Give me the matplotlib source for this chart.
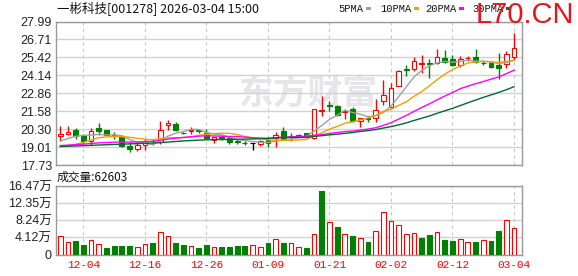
import numpy as np
import matplotlib
matplotlib.use("Agg")
import matplotlib.pyplot as plt
from matplotlib.patches import Rectangle

# daily candles, 60 sessions ending 2026-03-04
opens = [19.80, 19.92, 20.25, 19.78, 19.42, 20.37, 20.23, 19.85, 19.80, 19.12,
         18.90, 19.19, 19.45, 19.35, 20.60, 20.65, 20.05, 20.18, 20.22, 20.02,
         19.52, 19.72, 19.64, 19.45, 19.33, 19.30, 19.24, 19.52, 19.64, 20.18,
         19.72, 19.88, 20.02, 19.66, 21.60, 22.00, 21.95, 21.55, 21.72, 20.90,
         21.10, 21.08, 22.31, 21.89, 23.40, 24.58, 24.58, 24.95, 25.02, 25.00,
         25.36, 25.30, 24.90, 25.36, 25.43, 25.05, 25.03, 24.85, 24.92, 25.46]
highs = [20.49, 20.49, 20.40, 19.95, 20.37, 20.72, 20.25, 20.10, 19.88, 19.36,
         19.30, 19.60, 19.62, 20.90, 20.95, 20.80, 20.12, 20.42, 20.30, 20.32,
         19.72, 19.88, 19.82, 19.62, 19.45, 19.30, 19.55, 19.70, 20.06, 20.48,
         20.02, 19.95, 20.05, 21.72, 22.66, 22.31, 22.00, 21.72, 21.85, 21.10,
         21.25, 22.48, 23.84, 23.62, 24.50, 24.90, 25.42, 25.62, 25.30, 26.00,
         25.93, 25.57, 25.50, 25.55, 26.00, 25.19, 25.10, 25.74, 25.86, 27.14]
lows = [19.47, 19.90, 19.60, 19.20, 19.14, 19.85, 19.85, 19.60, 19.05, 18.65,
        18.73, 18.80, 19.15, 19.20, 20.20, 20.18, 19.92, 19.95, 20.05, 19.60,
        19.28, 19.50, 19.25, 19.22, 19.15, 18.82, 19.10, 19.05, 19.05, 19.60,
        19.45, 19.70, 19.78, 19.58, 21.20, 21.62, 21.25, 21.02, 20.80, 20.42,
        20.82, 20.80, 22.05, 21.84, 23.35, 24.10, 24.45, 24.32, 23.95, 24.97,
        25.05, 24.80, 24.75, 25.15, 25.00, 24.86, 24.68, 23.90, 24.68, 25.26]
closes = [19.95, 20.07, 19.80, 19.42, 20.14, 20.16, 19.87, 19.82, 19.08, 18.84,
          19.16, 19.45, 19.42, 20.23, 20.72, 20.20, 20.02, 20.22, 20.18, 19.64,
          19.70, 19.68, 19.38, 19.35, 19.30, 19.30, 19.42, 19.31, 19.87, 19.62,
          19.80, 19.82, 19.80, 21.72, 21.65, 21.95, 21.30, 21.60, 20.90, 21.08,
          21.04, 21.65, 22.71, 23.26, 24.44, 24.52, 25.20, 25.00, 24.98, 25.43,
          25.08, 24.90, 25.28, 25.40, 25.12, 25.02, 24.72, 24.68, 25.67, 26.10]

# volume in 万 shares, and whether the bar is drawn red (up)
volume = [4.56, 2.96, 3.2, 2.24, 3.44, 2.48, 1.52, 2.0, 2.0, 2.0,
          1.76, 2.48, 2.72, 5.52, 4.56, 2.72, 2.24, 2.0, 1.52, 2.24,
          1.76, 1.76, 1.76, 2.0, 2.0, 2.24, 1.76, 2.72, 3.84, 2.72,
          2.72, 1.69, 1.53, 4.82, 15.26, 7.71, 6.59, 4.82, 4.42, 3.86,
          2.97, 5.54, 10.12, 7.95, 6.99, 4.82, 5.06, 3.94, 4.66, 5.3,
          3.45, 3.21, 3.61, 2.97, 2.97, 3.37, 3.21, 5.62, 8.19, 6.2603]
vol_up = [1, 1, 0, 0, 1, 1, 0, 0, 0, 0,
          1, 1, 0, 1, 1, 0, 0, 1, 0, 0,
          1, 0, 0, 0, 0, 1, 1, 0, 1, 0,
          1, 1, 0, 1, 0, 1, 0, 1, 0, 1,
          0, 1, 1, 1, 1, 1, 1, 0, 0, 1,
          0, 0, 1, 1, 0, 1, 0, 0, 1, 1]

# moving-average values before enough sessions are on screen
ma5_head = [19.45, 19.62, 19.78, 19.85]
ma10_head = [19.08, 19.12, 19.20, 19.35, 19.52, 19.68, 19.74, 19.76, 19.76]
ma20_head = [19.12, 19.15, 19.19, 19.22, 19.27, 19.31, 19.34, 19.36, 19.37, 19.37,
             19.38, 19.40, 19.42, 19.50, 19.58, 19.65, 19.70, 19.75, 19.79]
ma30_head = [19.05, 19.07, 19.09, 19.11, 19.13, 19.16, 19.18, 19.20, 19.22, 19.24,
             19.26, 19.28, 19.30, 19.33, 19.37, 19.41, 19.45, 19.48, 19.51, 19.53,
             19.54, 19.55, 19.56, 19.57, 19.58, 19.59, 19.61, 19.63, 19.67]

price_ticks = [17.73, 19.01, 20.30, 21.58, 22.86, 24.14, 25.42, 26.71, 27.99]
vol_ticks = [0, 4.12, 8.24, 12.35, 16.47]
vol_tick_labels = ["0", "4.12万", "8.24万", "12.35万", "16.47万"]
date_idx = [3, 11, 19, 27, 35, 43, 51, 59]
date_labels = ["12-04", "12-16", "12-26", "01-09", "01-21", "02-02", "02-12", "03-04"]
ma_names = ["5PMA", "10PMA", "20PMA", "30PMA"]
ma_colors = ["#a0a0a0", "#f0a000", "#ff00ff", "#006b2e"]

RED, GREEN = "#ff0000", "#008000"
GRID, FRAME = "#d2d2d2", "#999999"
NUM_FONT = ["Liberation Sans", "Noto Sans CJK SC"]
CJK_FONT = ["Noto Sans CJK SC", "DejaVu Sans"]

W, H = 578, 276
fig = plt.figure(figsize=(W / 100, H / 100), dpi=100)


def px_axes(left, top, right, bottom):
    return fig.add_axes([left / W, 1 - bottom / H, (right - left) / W, (bottom - top) / H])


def moving_avg(head, n):
    c = np.asarray(closes)
    return np.concatenate([head, np.convolve(c, np.ones(n) / n, mode="valid")])


def style_axes(a):
    for s in a.spines.values():
        s.set_color(FRAME)
        s.set_linewidth(1)
    a.tick_params(length=0, pad=3, labelsize=9)
    a.yaxis.grid(True, color=GRID, lw=1)
    for xi in date_idx:
        a.axvline(xi, color="#c8c8c8", lw=0.8, ls=(0, (3, 3)), zorder=0)
    a.set_axisbelow(True)
    a.set_xlim(-0.56, 60.04)


o, h, l, c = map(np.asarray, (opens, highs, lows, closes))
x = np.arange(len(c))

ax = px_axes(56, 21.5, 522, 165)
style_axes(ax)
ax.set_ylim(price_ticks[0], price_ticks[-1])
ax.set_yticks(price_ticks)
ax.set_yticklabels([f"{t:.2f}" for t in price_ticks], family=NUM_FONT, color="#222222")
ax.set_xticks([])

ax.text(0.541, 0.50, "东方财富", transform=ax.transAxes, ha="center", va="center",
        fontsize=25, fontweight="bold", color="#e6e6ea", family=CJK_FONT, zorder=0)

cols = np.where(c > o, RED, np.where(c < o, GREEN, "#000000"))
faces = np.where(c > o, "white", cols)
ax.vlines(x, l, h, colors=cols, lw=1, zorder=3)
ax.bar(x, np.maximum(np.abs(c - o), 0.012), bottom=np.minimum(o, c), width=0.62,
       color=faces, edgecolor=cols, lw=0.8, zorder=4)

for head, n, col in zip([ma5_head, ma10_head, ma20_head, ma30_head], [5, 10, 20, 30], ma_colors):
    ax.plot(x, moving_avg(head, n), color=col, lw=1, zorder=5)

axv = px_axes(56, 186, 522, 254.5)
style_axes(axv)
axv.set_ylim(0, vol_ticks[-1])
axv.set_yticks(vol_ticks)
axv.set_yticklabels(vol_tick_labels, family=NUM_FONT, color="#222222")
axv.set_xticks(date_idx)
axv.set_xticklabels(date_labels, color=RED, family="Liberation Mono", fontsize=8)
axv.tick_params(axis="x", pad=4)
vcols = np.where(np.asarray(vol_up) == 1, RED, GREEN)
vfaces = np.where(np.asarray(vol_up) == 1, "white", GREEN)
axv.bar(x, volume, width=0.62, color=vfaces, edgecolor=vcols, lw=0.8, zorder=3)

fig.text(57 / W, 1 - 8.5 / H, "一彬科技[001278] 2026-03-04 15:00", fontsize=9,
         family=CJK_FONT, va="center", ha="left", color="#111111")
fig.text(57 / W, 1 - 177 / H, f"成交量:{int(round(volume[-1] * 1e4))}", fontsize=8.5,
         family=CJK_FONT, va="center", ha="left", color="#111111")

legend_x = [338, 380, 425, 472]
for name, col, lx in zip(ma_names, ma_colors, legend_x):
    t = fig.text(lx / W, 1 - 9 / H, name, fontsize=7.5, family="Liberation Mono",
                 va="center", ha="left", color="#111111")
    fig.canvas.draw()
    bb = t.get_window_extent()
    fig.add_artist(Rectangle(((bb.x1 + 3) / W, 1 - 10 / H), 5 / W, 2.5 / H,
                             transform=fig.transFigure, color=col, lw=0))

fig.text(574 / W, 1 - 15 / H, "L70.CN", fontsize=21, family="Liberation Sans",
         color="#e8141e", ha="right", va="center")

fig.savefig("out.png", dpi=100)
